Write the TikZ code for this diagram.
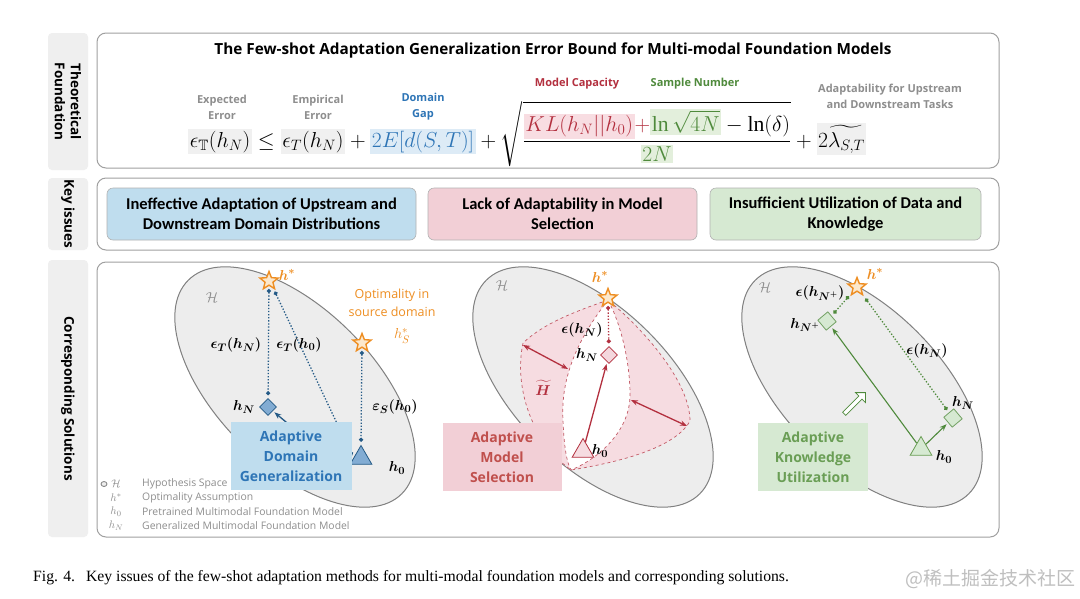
\documentclass[tikz,border=0pt]{standalone}
\usepackage{fontspec}
\usepackage{amssymb}
\usepackage{bm}
\setmainfont{Liberation Serif}
\newfontfamily\osans{Open Sans}
\newfontfamily\calib{Carlito}
\newfontfamily\cjk{Noto Sans CJK SC}
\usetikzlibrary{positioning,arrows.meta,shapes.geometric,shapes.arrows}

\definecolor{framegray}{HTML}{A0A0A0}
\definecolor{tabgray}{HTML}{EFEFEF}
\definecolor{spacegray}{HTML}{EDEDED}
\definecolor{spaceline}{HTML}{808080}
\definecolor{labelgray}{HTML}{8E8E8E}
\definecolor{deepblue}{HTML}{245A86}
\definecolor{midblue}{HTML}{2E75B6}
\definecolor{paleblue}{HTML}{BFDDEE}
\definecolor{deepred}{HTML}{B3303F}
\definecolor{midred}{HTML}{C0504D}
\definecolor{palered}{HTML}{F2CFD6}
\definecolor{regionpink}{HTML}{F6DCE1}
\definecolor{deepgreen}{HTML}{4F8A3C}
\definecolor{midgreen}{HTML}{6A9E55}
\definecolor{palegreen}{HTML}{D6E9D2}
\definecolor{starorange}{HTML}{EE8E22}
\definecolor{starfill}{HTML}{FCE8CC}
\definecolor{termgray}{HTML}{F0F0F0}
\definecolor{termblue}{HTML}{DDEBF6}
\definecolor{termpink}{HTML}{F8DDE2}
\definecolor{termgreen}{HTML}{E3EFDC}

\newcommand{\termbg}[2]{\colorbox{#1}{$\displaystyle #2$}}
\setlength{\fboxsep}{1.5pt}

\begin{document}
\begin{tikzpicture}[
    x=1pt, y=-1pt,
    tabbox/.style = {
        fill=tabgray,
        rounded corners=4pt,
        rotate=-90,
        minimum height=40,
        inner sep=0pt,
        align=center,
        font=\osans\bfseries\fontsize{13.5}{16}\selectfont
    },
    framebox/.style = {
        draw=framegray,
        line width=1pt,
        rounded corners=9pt,
        minimum width=902
    },
    issuebox/.style = {
        draw=black!30,
        line width=0.6pt,
        rounded corners=6pt,
        minimum height=52,
        align=center,
        font=\calib\bfseries\fontsize{16.5}{20}\selectfont
    },
    termlabel/.style = {
        align=center,
        font=\osans\bfseries\fontsize{11}{16}\selectfont
    },
    space/.style = {
        fill=spacegray,
        draw=spaceline,
        line width=1pt
    },
    optstar/.style = {
        star,
        star points=5,
        star point ratio=2.3,
        draw=starorange,
        fill=starfill,
        line width=1.4pt,
        minimum size=19,
        inner sep=0pt
    },
    mathlab/.style = {
        inner sep=1pt,
        font=\fontsize{15}{18}\selectfont
    },
    orangelab/.style = {
        inner sep=1pt,
        text=starorange,
        font=\fontsize{15}{18}\selectfont
    },
    solbox/.style = {
        minimum height=68,
        align=center,
        font=\osans\bfseries\fontsize{14}{20}\selectfont
    },
    bluedot/.style = {
        draw=deepblue,
        line width=1.3pt,
        dash pattern=on 1.3pt off 1.8pt,
        {Circle[length=4pt]}-{Circle[length=4pt]},
        shorten <=3pt,
        shorten >=3pt
    },
    reddot/.style = {bluedot, draw=deepred},
    greendot/.style = {bluedot, draw=deepgreen},
    solarrow/.style = {
        -{Stealth[length=7pt]},
        line width=1.3pt
    },
    widthmark/.style = {
        {Stealth[length=7pt]}-{Stealth[length=7pt]},
        line width=1.3pt,
        draw=deepred
    },
    legtext/.style = {
        anchor=west,
        inner sep=0pt,
        text=labelgray,
        font=\osans\fontsize{10.4}{12}\selectfont
    },
    legsym/.style = {
        inner sep=0pt,
        text=labelgray,
        font=\fontsize{11}{12}\selectfont
    }
]

\useasboundingbox[fill=white] (0,0) rectangle (1080,598);

% row tabs and frames
\node (tabTheory) [tabbox, minimum width=137] at (68,101.5) {Theoretical\\Foundation};
\node (tabIssue) [tabbox, minimum width=72] at (68,214) {Key issues};
\node (tabSol) [tabbox, minimum width=277] at (68,398.5) {Corresponding Solutions};

\node (theory) [framebox, minimum height=135] at (548,100.5) {};
\node (issues) [framebox, minimum height=72] at (548,214) {};
\node (solutions) [framebox, minimum height=275] at (548,399.5) {};

% theoretical foundation
\node (title) [font=\osans\bfseries\fontsize{15.3}{17}\selectfont] at (553,50)
    {The Few-shot Adaptation Generalization Error Bound for Multi-modal Foundation Models};

\node (bound) [anchor=base west, inner sep=0pt, scale=1.045, transform shape,
    font=\fontsize{20.74}{25}\selectfont] at (188,147)
    {$\displaystyle \termbg{termgray}{\epsilon_{\mathbb{T}}(h_N)} \le
      \termbg{termgray}{\epsilon_T(h_N)} +
      \termbg{termblue}{\color{midblue}2E[d(S,T)]} +
      \sqrt{\frac{\termbg{termpink}{\color{deepred}KL(h_N||h_0)} {\color{deepred}+}
      \termbg{termgreen}{\color{deepgreen}\ln\sqrt{4N}} - \ln(\delta)}
      {\termbg{termgreen}{\color{deepgreen}2N}}} +
      \termbg{termgray}{2\widetilde{\lambda_{S,T}}}$};

\node (expLab) [termlabel, text=labelgray] at (222,107) {Expected\\Error};
\node (empLab) [termlabel, text=labelgray] at (318,107) {Empirical\\Error};
\node (gapLab) [termlabel, text=midblue] at (423,107) {Domain\\Gap};
\node (capLab) [termlabel, text=deepred] at (577,84) {Model Capacity};
\node (numLab) [termlabel, text=deepgreen] at (695,84) {Sample Number};
\node (adaLab) [termlabel, text=labelgray] at (890,96) {Adaptability for Upstream\\and Downstream Tasks};

% key issues
\node (issueA) [issuebox, fill=paleblue, minimum width=309] at (261.5,214)
    {Ineffective Adaptation of Upstream and\\Downstream Domain Distributions};
\node (issueB) [issuebox, fill=palered, minimum width=269] at (562.5,214)
    {Lack of Adaptability in Model\\Selection};
\node (issueC) [issuebox, fill=palegreen, minimum width=271] at (845.5,214)
    {Insufficient Utilization of Data and\\Knowledge};

% hypothesis spaces
\draw[space, rotate around={-45:(295,387)}] (295,387) ellipse (151pt and 78pt);
\draw[space, rotate around={-45:(593,387)}] (593,387) ellipse (151pt and 78pt);
\draw[space, rotate around={-45:(862,387)}] (862,387) ellipse (151pt and 78pt);

% panel 1: adaptive domain generalization
\node (hcalA) [mathlab, text=labelgray] at (212,298) {$\mathcal{H}$};
\node (hstarA) [optstar] at (269,281) {};
\node [orangelab] at (287,275) {$\bm{h^{*}}$};
\node (hsrc) [optstar] at (362,343) {};
\node (srcLab) [align=center, text=starorange, font=\osans\fontsize{12.5}{18}\selectfont] at (392,303)
    {Optimality in\\source domain};
\node [orangelab] at (402,336) {$h_S^{*}$};
\node (hNA) [diamond, draw=deepblue, fill=midblue!60, line width=0.8pt, minimum size=17, inner sep=0pt] at (268,407) {};
\node (h0A) [regular polygon, regular polygon sides=3, draw=deepblue, fill=midblue!60, line width=0.8pt, minimum size=25, inner sep=0pt] at (361,458) {};

\draw[bluedot] (hstarA) -- (hNA);
\draw[bluedot] (hstarA.-60) -- (h0A.west);
\draw[bluedot] (hsrc) -- (h0A.north);

\node [mathlab] at (236,345) {$\bm{\epsilon_T(h_N)}$};
\node [mathlab] at (299,345) {$\bm{\epsilon_T(h_0)}$};
\node [mathlab] at (395,407) {$\bm{\varepsilon_S(h_0)}$};
\node [mathlab, left=3pt of hNA] {$\bm{h_N}$};
\node [mathlab] at (397,468) {$\bm{h_0}$};

\coordinate (adgTail) at (310,442);
\draw[solarrow, deepblue, shorten >=2pt] (adgTail) -- (hNA);
\node (adg) [solbox, fill=paleblue, text=midblue, minimum width=121] at (291,456)
    {Adaptive\\Domain\\Generalization};

% legend
\draw[spaceline, fill=spacegray, line width=0.8pt] (104,484) ellipse (3pt and 2.5pt);
\node [legsym] at (116,484) {$\mathcal{H}$};
\node [legsym] at (116,498) {$h^{*}$};
\node [legsym] at (116,512) {$h_0$};
\node [legsym] at (116,526) {$h_N$};
\node [legtext] at (142,484) {Hypothesis Space};
\node [legtext] at (142,498) {Optimality Assumption};
\node [legtext] at (142,512) {Pretrained Multimodal Foundation Model};
\node [legtext] at (142,526) {Generalized Multimodal Foundation Model};

% panel 2: adaptive model selection
\path[fill=regionpink, draw=deepred!80, dashed, line width=0.7pt]
    (608,300) .. controls (580,310) and (545,322) .. (523,343)
    .. controls (514,385) and (530,440) .. (571,470)
    .. controls (620,462) and (675,448) .. (690,421)
    .. controls (690,385) and (650,335) .. (608,300) -- cycle;
\path[fill=white, draw=deepred!80, dashed, line width=0.7pt]
    (608,300) .. controls (585,330) and (560,370) .. (563,420)
    .. controls (564,448) and (567,463) .. (571,470)
    .. controls (600,458) and (630,430) .. (630,395)
    .. controls (630,360) and (620,322) .. (608,300) -- cycle;

\coordinate (wideL1) at (523,345);
\coordinate (wideL2) at (568,369);
\coordinate (wideR1) at (631,400);
\coordinate (wideR2) at (687,426);
\draw[widthmark] (wideL1) -- (wideL2);
\draw[widthmark] (wideR1) -- (wideR2);

\node (hcalB) [mathlab, text=labelgray] at (502,286) {$\mathcal{H}$};
\node (hstarB) [optstar] at (608,298) {};
\node [orangelab] at (600,277) {$\bm{h^{*}}$};
\node (hNB) [diamond, draw=deepred, fill=regionpink!60!palered, line width=0.8pt, minimum size=17, inner sep=0pt] at (609,355) {};
\node (h0B) [regular polygon, regular polygon sides=3, draw=deepred, fill=regionpink, line width=0.8pt, minimum size=25, inner sep=0pt] at (583,451) {};
\draw[reddot] (hstarB) -- (hNB);
\draw[solarrow, deepred, shorten >=2pt] (h0B) -- (hNB);

\node [mathlab, text=deepred] at (543,388) {$\bm{\widetilde{H}}$};
\node [mathlab] at (582,330) {$\bm{\epsilon(h_N)}$};
\node [mathlab, left=1pt of hNB] {$\bm{h_N}$};
\node [mathlab, right=0pt of h0B] {$\bm{h_0}$};

\node (ams) [solbox, fill=palered, text=midred, minimum width=119] at (502,457)
    {Adaptive\\Model\\Selection};

% panel 3: adaptive knowledge utilization
\node (hcalC) [mathlab, text=labelgray] at (765,288) {$\mathcal{H}$};
\node (hstarC) [optstar] at (857,287) {};
\node [orangelab] at (875,274) {$\bm{h^{*}}$};
\node (hNplus) [rectangle, rotate=40, draw=deepgreen!80, fill=palegreen, line width=0.8pt, minimum size=13, inner sep=0pt] at (827,321) {};
\node (hNC) [rectangle, rotate=40, draw=deepgreen!80, fill=palegreen, line width=0.8pt, minimum size=13, inner sep=0pt] at (953,418) {};
\node (h0C) [regular polygon, regular polygon sides=3, draw=midgreen, fill=palegreen, line width=0.8pt, minimum size=25, inner sep=0pt] at (921,449) {};

\draw[greendot] (hstarC) -- (hNplus);
\draw[greendot] (hstarC) -- (hNC);
\draw[solarrow, deepgreen, line width=1.1pt, shorten >=2pt] (h0C) -- (hNplus);
\draw[solarrow, deepgreen, line width=1.1pt, shorten >=2pt] (h0C) -- (hNC);

\node (push) [single arrow, rotate=45, draw=deepgreen, fill=white, line width=0.8pt,
    minimum height=30, minimum width=14, single arrow head extend=3pt, inner sep=1pt] at (854,404) {};

\node [mathlab] at (820,293) {$\bm{\epsilon(h_{N^{+}})}$};
\node [mathlab] at (805,325) {$\bm{h_{N^{+}}}$};
\node [mathlab] at (927,351) {$\bm{\epsilon(h_N)}$};
\node [mathlab] at (963,403) {$\bm{h_N}$};
\node [mathlab] at (944,457) {$\bm{h_0}$};

\node (aku) [solbox, fill=palegreen, text=midgreen, minimum width=110] at (813,457)
    {Adaptive\\Knowledge\\Utilization};

% caption and mark
\node (caption) [anchor=base west, inner sep=0pt, font=\fontsize{15.7}{18}\selectfont] at (33,581)
    {Fig. 4.\hspace{0.7em}Key issues of the few-shot adaptation methods for multi-modal foundation models and corresponding solutions.};
\node (mark) [anchor=base east, inner sep=0pt, text=black!25, font=\cjk\fontsize{19}{20}\selectfont] at (1076,585)
    {@稀土掘金技术社区};

\end{tikzpicture}
\end{document}
